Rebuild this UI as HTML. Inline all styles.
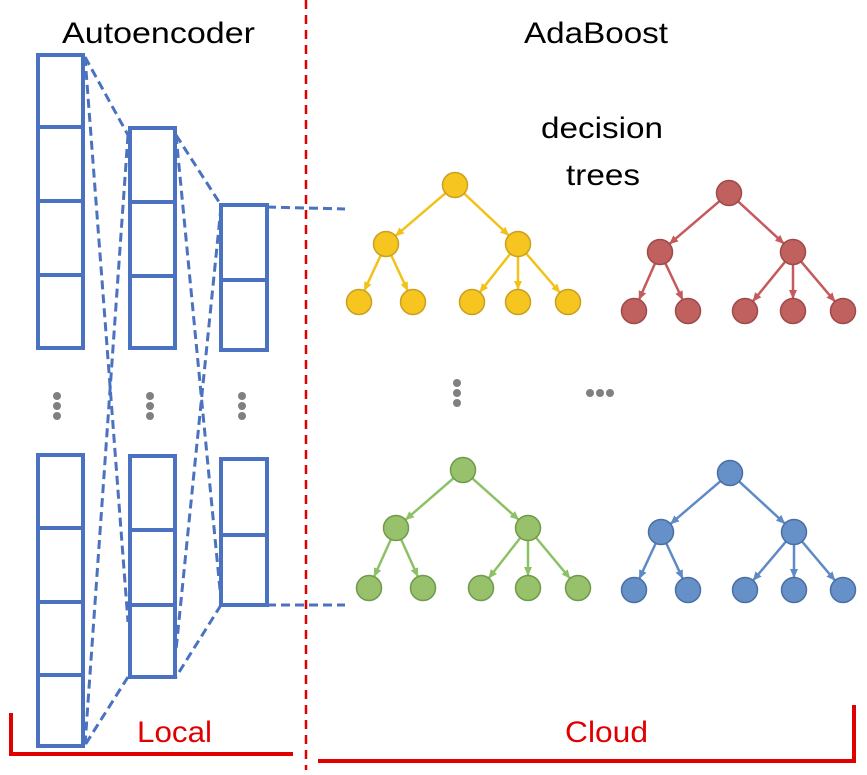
<!DOCTYPE html>
<html><head><meta charset="utf-8"><style>body{margin:0;background:#fff}svg{display:block}</style></head>
<body>
<svg id="s" width="867" height="775" xmlns="http://www.w3.org/2000/svg" font-family="Liberation Sans, sans-serif">
<defs>
<marker id="ay" markerWidth="9" markerHeight="8" refX="8" refY="4" orient="auto" markerUnits="userSpaceOnUse"><path d="M0,0 L9,4 L0,8z" fill="#f2c21a"/></marker>
<marker id="ar" markerWidth="9" markerHeight="8" refX="8" refY="4" orient="auto" markerUnits="userSpaceOnUse"><path d="M0,0 L9,4 L0,8z" fill="#c5595b"/></marker>
<marker id="ag" markerWidth="9" markerHeight="8" refX="8" refY="4" orient="auto" markerUnits="userSpaceOnUse"><path d="M0,0 L9,4 L0,8z" fill="#8dc165"/></marker>
<marker id="ab" markerWidth="9" markerHeight="8" refX="8" refY="4" orient="auto" markerUnits="userSpaceOnUse"><path d="M0,0 L9,4 L0,8z" fill="#5f8ac6"/></marker>
</defs>
<g font-size="30" fill="#000">
<text x="62" y="43" textLength="193" lengthAdjust="spacingAndGlyphs">Autoencoder</text>
<text x="524" y="43" textLength="144" lengthAdjust="spacingAndGlyphs">AdaBoost</text>
<text x="541" y="138" textLength="122" lengthAdjust="spacingAndGlyphs">decision</text>
<text x="566" y="185" textLength="74" lengthAdjust="spacingAndGlyphs">trees</text>
</g>
<g font-size="30" fill="#e00000">
<text x="137" y="742" textLength="75" lengthAdjust="spacingAndGlyphs">Local</text>
<text x="565" y="742" textLength="83" lengthAdjust="spacingAndGlyphs">Cloud</text>
</g>
<line x1="306" y1="0" x2="306" y2="770" stroke="#e00000" stroke-width="2.5" stroke-dasharray="9,6"/>
<path d="M11,713 V754 H293" fill="none" stroke="#e00000" stroke-width="4"/>
<path d="M318,761 H854 V705" fill="none" stroke="#e00000" stroke-width="4"/>
<g stroke="#4a72c0" stroke-width="3" stroke-dasharray="9,5" fill="none">
<line x1="85" y1="57" x2="128" y2="135"/>
<line x1="85" y1="57" x2="128" y2="622"/>
<line x1="128" y1="135" x2="85" y2="745"/>
<line x1="128" y1="677" x2="85" y2="745"/>
<line x1="176" y1="135" x2="221" y2="205"/>
<line x1="176" y1="135" x2="221" y2="600"/>
<line x1="221" y1="207" x2="176" y2="650"/>
<line x1="221" y1="605" x2="176" y2="677"/>
<line x1="267" y1="207" x2="345" y2="209"/>
<line x1="267" y1="605" x2="345" y2="605"/>
</g>
<g id="cols" stroke="#4a72c0" stroke-width="4" fill="none"></g>
<g fill="#808080">
<circle cx="57" cy="396" r="4"/><circle cx="57" cy="406" r="4"/><circle cx="57" cy="416" r="4"/>
<circle cx="150" cy="396" r="4"/><circle cx="150" cy="406" r="4"/><circle cx="150" cy="416" r="4"/>
<circle cx="242" cy="396" r="4"/><circle cx="242" cy="406" r="4"/><circle cx="242" cy="416" r="4"/>
<circle cx="457" cy="383" r="4"/><circle cx="457" cy="393" r="4"/><circle cx="457" cy="403" r="4"/>
<circle cx="590" cy="393" r="4"/><circle cx="600" cy="393" r="4"/><circle cx="610" cy="393" r="4"/>
</g>
<g id="trees"></g>
</svg>
<script>
var ns="http://www.w3.org/2000/svg";
function el(p,t,a){var e=document.createElementNS(ns,t);for(var k in a)e.setAttribute(k,a[k]);p.appendChild(e);return e;}
var cols=document.getElementById('cols');
[[38,83,[55,127,201,275,348]],[38,83,[455,528,602,675,746]],[130,175,[128,202,276,348]],[130,175,[456,530,605,677]],[221,267,[205,280,350]],[221,267,[459,535,605]]].forEach(function(c){
 var ys=c[2];el(cols,'rect',{x:c[0],y:ys[0],width:c[1]-c[0],height:ys[ys.length-1]-ys[0]});
 for(var i=1;i<ys.length-1;i++)el(cols,'line',{x1:c[0],y1:ys[i],x2:c[1],y2:ys[i]});
});
var T=document.getElementById('trees');
function tree(rx,ry,l2,y2,leaves,y3,fill,stroke,m,ln){
 function arrow(x1,y1,x2,y2){var dx=x2-x1,dy=y2-y1,d=Math.hypot(dx,dy),r=13;
  el(T,'line',{x1:x1+dx/d*r*0.7,y1:y1+dy/d*r*0.7,x2:x2-dx/d*r,y2:y2-dy/d*r,stroke:ln,'stroke-width':2.5,'marker-end':'url(#'+m+')'});}
 arrow(rx,ry,l2[0],y2);arrow(rx,ry,l2[1],y2);
 arrow(l2[0],y2,leaves[0],y3);arrow(l2[0],y2,leaves[1],y3);
 arrow(l2[1],y2,leaves[2],y3);arrow(l2[1],y2,leaves[3],y3);arrow(l2[1],y2,leaves[4],y3);
 var pts=[[rx,ry],[l2[0],y2],[l2[1],y2]];leaves.forEach(function(x){pts.push([x,y3]);});
 pts.forEach(function(p){el(T,'circle',{cx:p[0],cy:p[1],r:12.5,fill:fill,stroke:stroke,'stroke-width':1.5});});
}
tree(455,185,[386,518],244,[359,413,472,518,568],302,'#f6c520','#c9a020','ay','#f2c21a');
tree(729,193,[660,793],252,[634,688,745,793,843],311,'#c0605f','#9e4a4a','ar','#c5595b');
tree(463,470,[396,528],528,[369,423,481,528,578],588,'#97c26b','#6f9a4b','ag','#8dc165');
tree(730,473,[661,794],532,[634,688,745,794,843],590,'#6690c8','#4a6fa5','ab','#5f8ac6');
</script>
</body></html>
